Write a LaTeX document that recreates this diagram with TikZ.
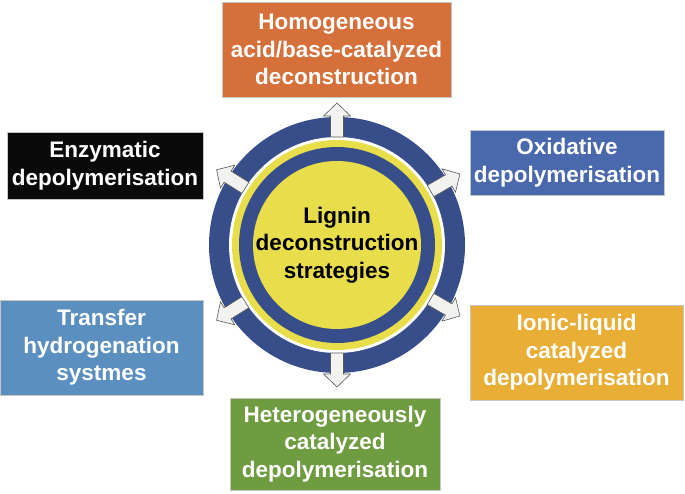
\documentclass[tikz,border=0pt]{standalone}
\usepackage{fontspec}
\setmainfont{Liberation Sans}
\definecolor{cOrange}{HTML}{D5703A}
\definecolor{cBlack}{HTML}{0A0A0A}
\definecolor{cOxi}{HTML}{4A69AD}
\definecolor{cTrans}{HTML}{5A8FBF}
\definecolor{cIonic}{HTML}{E9AE36}
\definecolor{cGreen}{HTML}{6F9C40}
\definecolor{ringblue}{HTML}{374E8A}
\definecolor{ringyellow}{HTML}{E8DD4A}
\definecolor{arrowfill}{HTML}{F2F2F0}
\tikzset{
  stratbox/.style={draw=gray!45, line width=0.7pt, text=white, align=center, inner sep=0pt,
    font=\fontsize{22.5}{27.5}\selectfont\bfseries},
  blockarrow/.style={fill=arrowfill, draw=black!65, line width=0.6pt, line join=miter},
}
\begin{document}
\begin{tikzpicture}[x=1pt,y=-1pt]
\useasboundingbox (0,0) rectangle (685,494);
% rings
\coordinate (c) at (337,245);
\fill[ringblue] (c) circle (128pt);
\fill[white] (c) circle (108pt);
\fill[ringyellow] (c) circle (105pt);
\fill[ringblue] (c) circle (98pt);
\fill[ringyellow] (c) circle (84pt);
\node[align=center, font=\fontsize{22.5}{27.5}\selectfont\bfseries, text=black] (center) at (c)
  {Lignin\\deconstruction\\strategies};
% arrows
\foreach \a in {90,30,148,212,330,270}{
  \begin{scope}[shift={(337,245)}, rotate=\a]
    \draw[blockarrow] (108,-6.5) -- (129,-6.5) -- (129,-13.5) -- (142,0) -- (129,13.5) -- (129,6.5) -- (108,6.5) -- cycle;
  \end{scope}
}
% boxes
\node[stratbox, fill=cOrange, minimum width=229pt, minimum height=95pt] (homo) at (336.5,49.5)
  {Homogeneous\\acid/base-catalyzed\\deconstruction};
\node[stratbox, fill=cBlack, minimum width=196pt, minimum height=67pt] (enz) at (105,165.5)
  {Enzymatic\\depolymerisation};
\node[stratbox, fill=cOxi, minimum width=194pt, minimum height=65pt] (oxi) at (567,162.5)
  {Oxidative\\depolymerisation};
\node[stratbox, fill=cTrans, minimum width=203pt, minimum height=95pt] (trans) at (101.5,347.5)
  {Transfer\\hydrogenation\\systmes};
\node[stratbox, fill=cIonic, minimum width=213pt, minimum height=95pt] (ionic) at (576.5,352.5)
  {Ionic-liquid\\catalyzed\\depolymerisation};
\node[stratbox, fill=cGreen, minimum width=210pt, minimum height=92pt] (hetero) at (335,444)
  {Heterogeneously\\catalyzed\\depolymerisation};
\end{tikzpicture}
\end{document}
